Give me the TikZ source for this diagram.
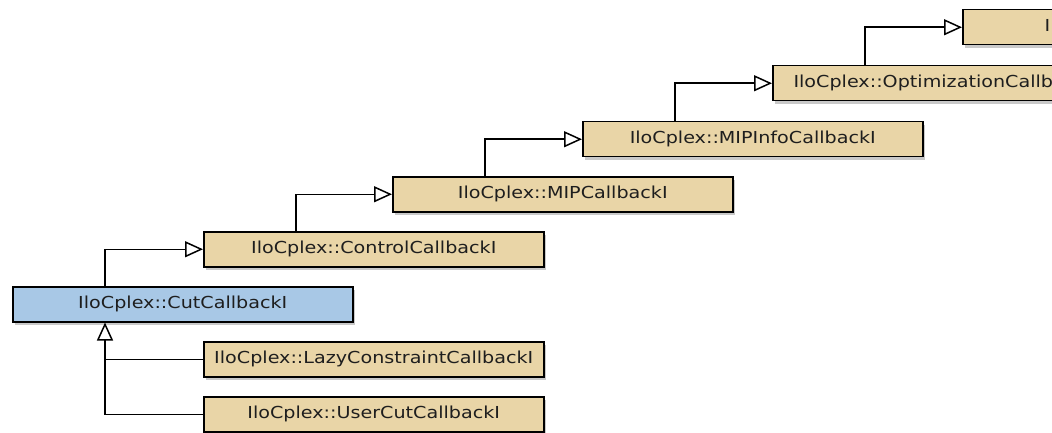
\documentclass[tikz,border=0pt]{standalone}
\usepackage{fontspec}
\newfontfamily\boxfont[FakeStretch=1.16]{DejaVu Sans}
\usetikzlibrary{arrows.meta,calc,shadows}
\definecolor{tan}{RGB}{233,213,167}
\definecolor{selblue}{RGB}{168,200,230}
\definecolor{txt}{RGB}{30,30,30}
\begin{document}
\begin{tikzpicture}[x=1pt,y=-1pt,
  cls/.style={draw=black,line width=1.5pt,fill=tan,minimum width=340pt,minimum height=35pt,
    inner sep=0pt,anchor=north west,text=txt,font=\boxfont\fontsize{16.5pt}{19pt}\selectfont,
    drop shadow={shadow xshift=2.5pt,shadow yshift=-3.5pt,opacity=0.3,fill=black!70}},
  sel/.style={cls,fill=selblue},
  inh/.style={draw=black,line width=1.5pt,-{Triangle[open,length=18pt,width=16pt,fill=white,line width=1.5pt]}},
  lnk/.style={draw=black,line width=1.5pt}]
\useasboundingbox (0,0) rectangle (1052,433);
\clip (0,0) rectangle (1052,433);
\node[sel] (cut) at (12,286) {IloCplex::CutCallbackI};
\node[cls] (control) at (203,231) {IloCplex::ControlCallbackI};
\node[cls] (mip) at (392,176) {IloCplex::MIPCallbackI};
\node[cls] (mipinfo) at (582,121) {IloCplex::MIPInfoCallbackI};
\node[cls] (opt) at (772,65) {IloCplex::OptimizationCallbackI};
\node[cls] (cb) at (962,9) {IloCplex::CallbackI};
\node[cls] (lazy) at (203,341) {IloCplex::LazyConstraintCallbackI};
\node[cls] (user) at (203,396) {IloCplex::UserCutCallbackI};
\coordinate (cutup) at ($(cut.north west)+(93,0)$);
\coordinate (cutdn) at ($(cut.south west)+(93,0)$);
\coordinate (controlup) at ($(control.north west)+(93,0)$);
\coordinate (mipup) at ($(mip.north west)+(93,0)$);
\coordinate (mipinfoup) at ($(mipinfo.north west)+(93,0)$);
\coordinate (optup) at ($(opt.north west)+(93,0)$);
\draw[inh] (cutup) |- (control.west);
\draw[inh] (controlup) |- (mip.west);
\draw[inh] (mipup) |- (mipinfo.west);
\draw[inh] (mipinfoup) |- (opt.west);
\draw[inh] (optup) |- (cb.west);
\draw[lnk] (lazy.west) -- (lazy.west -| cutdn);
\draw[inh] (user.west) -| (cutdn);
\end{tikzpicture}
\end{document}
